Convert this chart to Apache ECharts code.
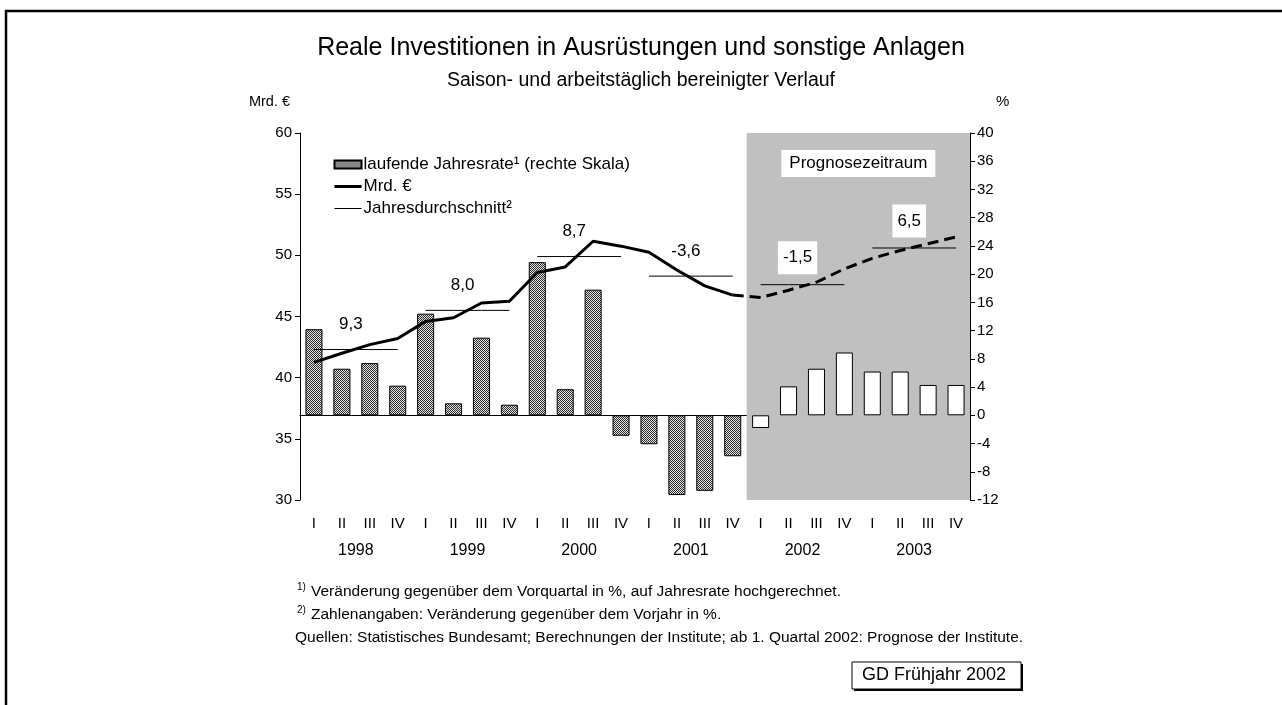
<!DOCTYPE html>
<html>
<head>
<meta charset="utf-8">
<script src="https://cdn.jsdelivr.net/npm/echarts@6/dist/echarts.min.js"></script>
<style>
  html, body { margin: 0; padding: 0; background: #fff; }
  #chart { width: 1282px; height: 705px; }
</style>
</head>
<body>
<div id="chart"></div>
<script>
const years = ['1998', '1999', '2000', '2001', '2002', '2003'];
const quarters = ['I', 'II', 'III', 'IV'];
// laufende Jahresrate in % (rechte Skala)
const rateValues = [12.2, 6.6, 7.4, 4.2, 14.4, 1.7, 11.0, 1.5, 21.7, 3.7, 17.8, -2.9,
                    -4.1, -11.3, -10.7, -5.8, -1.8, 4.1, 6.6, 8.9, 6.2, 6.2, 4.3, 4.3];
// Mrd. € (linke Skala)
const levelValues = [41.25, 42.0, 42.7, 43.2, 44.6, 44.9, 46.1, 46.25, 48.6, 49.05, 51.15, 50.75,
                     50.25, 48.8, 47.5, 46.75, 46.55, 47.15, 47.8, 48.9, 49.75, 50.4, 50.95, 51.5];
const yearAverages = [42.3, 45.5, 49.9, 48.3, 47.6, 50.6];
const yearChangeLabels = ['9,3', '8,0', '8,7', '-3,6', '-1,5', '6,5'];
const forecastStart = 16; // ab 1. Quartal 2002

const categories = [];
years.forEach(function (y) { quarters.forEach(function (q) { categories.push(y + ' ' + q); }); });

// gepunktete Füllung wie im Original
const pat = document.createElement('canvas');
pat.width = 4; pat.height = 4;
const pctx = pat.getContext('2d');
pctx.fillStyle = '#e6e6e6';
pctx.fillRect(0, 0, 4, 4);
pctx.fillStyle = '#2a2a2a';
for (let y = 0; y < 4; y++) {
  for (let x = 0; x < 4; x++) {
    if ((x + y) % 2 === 0) pctx.fillRect(x, y, 1, 1);
  }
}
const dotted = { image: pat, repeat: 'repeat' };

const FONT = 'Liberation Sans, Arial, sans-serif';

function avgData(parity) {
  return categories.map(function (c, i) {
    const y = Math.floor(i / 4);
    return y % 2 === parity ? yearAverages[y] : '-';
  });
}

const labelData = categories.map(function (c, i) {
  if (i % 4 !== 1) return '-';
  const y = Math.floor(i / 4);
  const fc = i >= forecastStart;
  return {
    value: yearAverages[y],
    label: {
      formatter: yearChangeLabels[y],
      backgroundColor: fc ? '#fff' : 'transparent',
      padding: fc ? [8, 5] : 0,
      offset: fc ? [9, -5] : [9, -11]
    }
  };
});

let myChart = echarts.init(document.getElementById('chart'));
myChart.setOption({
  animation: false,
  textStyle: { fontFamily: FONT, color: '#000' },
  title: {
    text: 'Reale Investitionen in Ausrüstungen und sonstige Anlagen',
    subtext: 'Saison- und arbeitstäglich bereinigter Verlauf',
    left: 'center',
    top: 31,
    itemGap: 10,
    textStyle: { fontFamily: FONT, fontSize: 25, fontWeight: 'normal', color: '#000' },
    subtextStyle: { fontFamily: FONT, fontSize: 19.5, color: '#000' }
  },
  legend: {
    data: [
      { name: 'laufende Jahresrate¹ (rechte Skala)', icon: 'rect' },
      { name: 'Mrd. €', itemStyle: { opacity: 0 }, lineStyle: { width: 3 } },
      { name: 'Jahresdurchschnitt²', itemStyle: { opacity: 0 }, lineStyle: { width: 1 } }
    ],
    orient: 'vertical',
    left: 328,
    top: 151,
    itemWidth: 27,
    itemHeight: 8,
    itemGap: 5,
    selectedMode: false,
    textStyle: { fontFamily: FONT, fontSize: 17, color: '#000', padding: [0, 0, 0, -3] }
  },
  grid: {
    left: 300,
    right: 312,
    top: 133,
    bottom: 205,
    containLabel: false
  },
  xAxis: [{
    type: 'category',
    data: categories,
    boundaryGap: true,
    axisLine: { lineStyle: { color: '#000', width: 1 } },
    axisTick: { interval: 3, length: 6, lineStyle: { color: '#000' } },
    axisLabel: {
      interval: 0,
      margin: 16,
      fontSize: 15,
      color: '#000',
      formatter: function (v) { return v.split(' ')[1]; }
    }
  }, {
    type: 'category',
    data: years,
    position: 'bottom',
    offset: 30,
    axisLine: { show: false },
    axisTick: { show: false },
    axisLabel: { fontSize: 16, color: '#000', margin: 13 }
  }, {
    type: 'value',
    min: 0,
    max: 24,
    show: false
  }],
  yAxis: [{
    type: 'value',
    min: 30,
    max: 60,
    interval: 5,
    position: 'left',
    name: 'Mrd. €',
    nameLocation: 'end',
    nameGap: 24,
    nameTextStyle: { fontFamily: FONT, fontSize: 14.5, color: '#000', align: 'right', padding: [0, 10, 0, 0] },
    axisLine: { show: true, lineStyle: { color: '#000', width: 1 } },
    axisTick: { show: true, length: 5, lineStyle: { color: '#000' } },
    axisLabel: { fontSize: 15, color: '#000', margin: 8 },
    splitLine: { show: false }
  }, {
    type: 'value',
    min: -12,
    max: 40,
    interval: 4,
    position: 'right',
    name: '%',
    nameLocation: 'end',
    nameGap: 24,
    nameTextStyle: { fontFamily: FONT, fontSize: 15, color: '#000', align: 'left', padding: [0, 0, 0, 26] },
    axisLine: { show: true, lineStyle: { color: '#000', width: 1 } },
    axisTick: { show: true, length: 5, lineStyle: { color: '#000' } },
    axisLabel: { fontSize: 15, color: '#000', margin: 7 },
    splitLine: { show: false }
  }],
  series: [{
    // Prognosezeitraum (grauer Hintergrund)
    name: 'Prognosezeitraum',
    type: 'line',
    xAxisIndex: 2,
    yAxisIndex: 0,
    data: [],
    z: 1,
    silent: true,
    markArea: {
      silent: true,
      itemStyle: { color: '#c0c0c0' },
      label: {
        show: true,
        position: 'insideTop',
        distance: 17,
        formatter: 'Prognosezeitraum',
        backgroundColor: '#fff',
        padding: [5, 8],
        fontSize: 17,
        fontFamily: FONT,
        color: '#000'
      },
      data: [[{ xAxis: forecastStart }, { xAxis: categories.length }]]
    }
  }, {
    name: 'laufende Jahresrate¹ (rechte Skala)',
    type: 'bar',
    xAxisIndex: 0,
    yAxisIndex: 1,
    barWidth: '61%',
    z: 3,
    itemStyle: { color: dotted, borderColor: '#000', borderWidth: 1 },
    data: rateValues.map(function (v, i) {
      return i >= forecastStart ? { value: v, itemStyle: { color: '#fff' } } : v;
    })
  }, {
    name: 'Jahresdurchschnitt²',
    type: 'line',
    yAxisIndex: 0,
    symbol: 'none',
    z: 4,
    lineStyle: { color: '#000', width: 1 },
    itemStyle: { color: '#000' },
    data: avgData(0)
  }, {
    name: 'Jahresdurchschnitt²',
    type: 'line',
    yAxisIndex: 0,
    symbol: 'none',
    z: 4,
    lineStyle: { color: '#000', width: 1 },
    itemStyle: { color: '#000' },
    data: avgData(1)
  }, {
    name: 'Mrd. €',
    type: 'line',
    yAxisIndex: 0,
    symbol: 'none',
    z: 5,
    lineStyle: { color: '#000', width: 3 },
    itemStyle: { color: '#000' },
    data: levelValues.map(function (v, i) { return i < forecastStart ? v : '-'; })
  }, {
    name: 'Mrd. € Prognose',
    type: 'line',
    yAxisIndex: 0,
    symbol: 'none',
    z: 5,
    lineStyle: { color: '#000', width: 3, type: [11, 6] },
    data: levelValues.map(function (v, i) { return i >= forecastStart - 1 ? v : '-'; })
  }, {
    name: 'Veränderung',
    type: 'scatter',
    yAxisIndex: 0,
    symbolSize: 1,
    z: 6,
    silent: true,
    itemStyle: { color: 'transparent', opacity: 1 },
    label: { show: true, position: 'top', fontSize: 17, fontFamily: FONT, color: '#000' },
    data: labelData
  }],
  graphic: [{
    type: 'rect',
    shape: { x: 6, y: 11, width: 1300, height: 720 },
    style: { fill: 'none', stroke: '#000', lineWidth: 2.5 },
    silent: true
  }, {
    type: 'text', left: 297, top: 582,
    style: { text: '1)', font: '10px ' + FONT, fill: '#000' }
  }, {
    type: 'text', left: 311, top: 584,
    style: { text: 'Veränderung gegenüber dem Vorquartal in %, auf Jahresrate hochgerechnet.', font: '15.5px ' + FONT, fill: '#000' }
  }, {
    type: 'text', left: 297, top: 605,
    style: { text: '2)', font: '10px ' + FONT, fill: '#000' }
  }, {
    type: 'text', left: 311, top: 607,
    style: { text: 'Zahlenangaben: Veränderung gegenüber dem Vorjahr in %.', font: '15.5px ' + FONT, fill: '#000' }
  }, {
    type: 'text', left: 295, top: 630,
    style: { text: 'Quellen: Statistisches Bundesamt; Berechnungen der Institute; ab 1. Quartal 2002: Prognose der Institute.', font: '15.5px ' + FONT, fill: '#000' }
  }, {
    type: 'rect',
    shape: { x: 854, y: 664, width: 169, height: 27 },
    style: { fill: '#000' },
    silent: true
  }, {
    type: 'rect',
    shape: { x: 852, y: 662, width: 169, height: 27 },
    style: { fill: '#fff', stroke: '#000', lineWidth: 1 },
    silent: true
  }, {
    type: 'text', left: 862, top: 666,
    style: { text: 'GD Frühjahr 2002', font: '18px ' + FONT, fill: '#000' }
  }]
});
window.addEventListener('resize', function () {
  myChart.resize();
});
</script>
</body>
</html>
